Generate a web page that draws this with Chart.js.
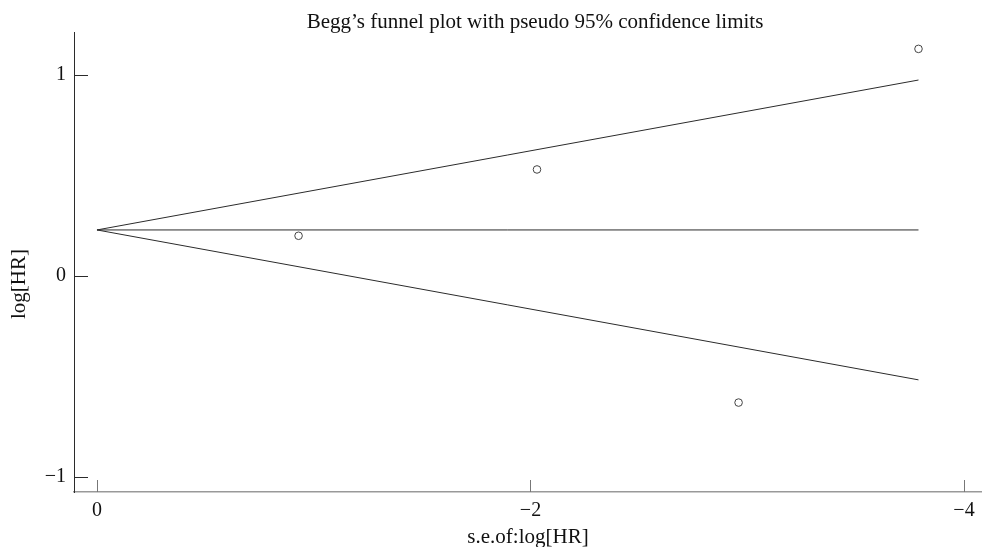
<!DOCTYPE html>
<html>
<head>
<meta charset="utf-8">
<script src="https://cdn.jsdelivr.net/npm/chart.js@4.4.1/dist/chart.umd.min.js"></script>
<style>
    html, body { margin: 0; padding: 0; background: #fff; }
    #wrap { width: 982px; height: 547px; }
</style>
</head>
<body>
<div id="wrap"><canvas id="funnel" width="982" height="547"></canvas></div>
<script>
// --------------------------------------------------------------------------
// DATA
// --------------------------------------------------------------------------
const studySE = [-0.93, -2.03, -2.96, -3.79];
const studyLogHR = [0.20, 0.53, -0.63, 1.13];
const limitSE = [0, -3.79];
const pooledLine = [0.229, 0.229];
const upperLimit = [0.229, 0.975];
const lowerLimit = [0.229, -0.517];
const xTickValues = [0, -2, -4];
const yTickValues = [-1, 0, 1];

const TITLE = 'Begg\u2019s funnel plot with pseudo 95% confidence limits';
const X_TITLE = 's.e.of:log[HR]';
const Y_TITLE = 'log[HR]';
const SERIF = '"Liberation Serif", "DejaVu Serif", serif';
const INK = '#2b2b2b';

function toPoints(xs, ys) {
    return xs.map((x, i) => ({ x, y: ys[i] }));
}
function fmtTick(v) {
    return v < 0 ? '\u2212' + Math.abs(v) : String(v);
}

// --------------------------------------------------------------------------
// inward tick marks + main / y titles
// --------------------------------------------------------------------------
const stataDecor = {
    id: 'stataDecor',
    afterDraw(chart) {
        const { ctx, chartArea, scales } = chart;
        const xs = scales.x, ys = scales.y;
        ctx.save();
        ctx.lineWidth = 1;
        ctx.strokeStyle = INK;
        yTickValues.forEach(v => {
            const py = Math.round(ys.getPixelForValue(v)) + 0.5;
            ctx.beginPath();
            ctx.moveTo(chartArea.left, py);
            ctx.lineTo(chartArea.left + 14, py);
            ctx.stroke();
        });
        ctx.strokeStyle = '#777';
        xTickValues.forEach(v => {
            const px = Math.round(xs.getPixelForValue(v)) + 0.5;
            ctx.beginPath();
            ctx.moveTo(px, chartArea.bottom);
            ctx.lineTo(px, chartArea.bottom - 12);
            ctx.stroke();
        });

        ctx.fillStyle = '#111';
        ctx.font = '21px ' + SERIF;
        ctx.textAlign = 'center';
        ctx.textBaseline = 'alphabetic';
        ctx.fillText(TITLE, 535, 28);

        ctx.translate(19, 284);
        ctx.rotate(-Math.PI / 2);
        ctx.textBaseline = 'middle';
        ctx.fillText(Y_TITLE, 0, 0);
        ctx.restore();
    }
};

const lineStyle = { borderColor: INK, borderWidth: 1, pointRadius: 0, showLine: true, fill: false };

new Chart(document.getElementById('funnel'), {
    type: 'scatter',
    data: {
        datasets: [
            { ...lineStyle, data: toPoints(limitSE, pooledLine) },
            { ...lineStyle, data: toPoints(limitSE, upperLimit) },
            { ...lineStyle, data: toPoints(limitSE, lowerLimit) },
            {
                data: toPoints(studySE, studyLogHR),
                pointRadius: 3.8,
                pointBackgroundColor: '#fff',
                pointBorderColor: '#444',
                pointBorderWidth: 1,
                showLine: false
            }
        ]
    },
    options: {
        responsive: false,
        animation: false,
        devicePixelRatio: 1,
        layout: { autoPadding: false, padding: { top: 32, right: 0, bottom: 0, left: 0 } },
        plugins: { legend: { display: false }, tooltip: { enabled: false } },
        scales: {
            x: {
                type: 'linear',
                reverse: true,
                min: -4.083,
                max: 0.106,
                afterBuildTicks: s => { s.ticks = xTickValues.map(value => ({ value })); },
                afterFit: s => { s.height = 55; s.paddingLeft = 0; s.paddingRight = 0; },
                grid: { display: false, drawTicks: false },
                border: { display: true, color: '#999', width: 1.5 },
                ticks: { padding: 7, color: '#111', font: { family: SERIF, size: 20 }, callback: fmtTick, maxRotation: 0 },
                title: { display: true, text: X_TITLE, color: '#111', font: { family: SERIF, size: 21 }, padding: { top: 0, bottom: -3 } }
            },
            y: {
                type: 'linear',
                min: -1.075,
                max: 1.214,
                afterBuildTicks: s => { s.ticks = yTickValues.map(value => ({ value })); },
                afterFit: s => { s.width = 74; s.paddingTop = 0; s.paddingBottom = 0; },
                grid: { display: false, drawTicks: false },
                border: { display: true, color: INK, width: 1 },
                ticks: { padding: 8, color: '#111', font: { family: SERIF, size: 20 }, callback: fmtTick }
            }
        }
    },
    plugins: [stataDecor]
});
</script>
</body>
</html>
